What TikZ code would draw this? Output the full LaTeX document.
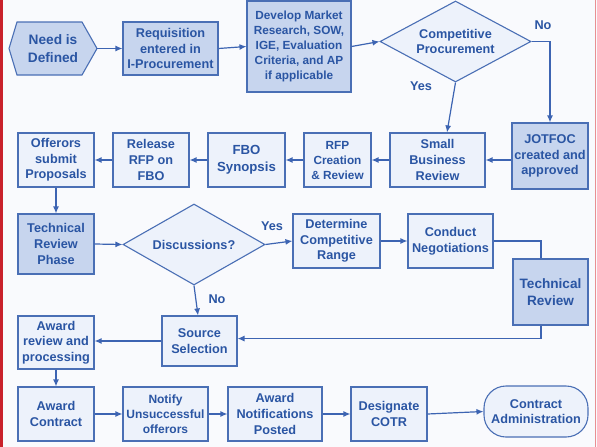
\documentclass[tikz,border=0pt]{standalone}
\usepackage{fontspec}
\setmainfont{Liberation Sans}
\usetikzlibrary{shapes.geometric,arrows.meta}
\definecolor{bordc}{HTML}{4A6FB5}
\definecolor{linec}{HTML}{3D64B2}
\definecolor{txtc}{HTML}{2A55A3}
\definecolor{lightc}{HTML}{EDF2FB}
\definecolor{shadec}{HTML}{C7D5EE}
\definecolor{bgc}{HTML}{F9FAFD}
\definecolor{redbar}{HTML}{C9212B}
\definecolor{pinkl}{HTML}{E98F92}
\tikzset{
  base/.style={draw=bordc, line width=1.1pt, inner sep=0pt, align=center, text=txtc,
    font=\fontsize{12.7}{15.7}\selectfont\bfseries},
  box/.style={base, rectangle, fill=lightc},
  sbox/.style={base, rectangle, fill=shadec},
  dmd/.style={base, diamond, fill=lightc, aspect=1.8},
  term/.style={base, rectangle, rounded corners=22pt, fill=lightc},
  conn/.style={draw=linec, line width=1.2pt, -{Latex[length=7pt,width=6pt]}},
  plain/.style={draw=linec, line width=1.2pt},
  lbl/.style={text=txtc, font=\fontsize{12.7}{15}\selectfont\bfseries, inner sep=0pt}
}
\begin{document}
\begin{tikzpicture}[x=1pt,y=-1pt]
\useasboundingbox (0,0) rectangle (597,447);
\fill[bgc] (0,0) rectangle (597,447);
\fill[redbar] (0,0) rectangle (3,447);
\draw[pinkl, line width=0.8pt] (595,0) -- (595,447);

% row 1
\fill[shadec] (9,48.5) -- (17,22) -- (82,22) -- (97,48.5) -- (82,75) -- (17,75) -- cycle;
\draw[bordc, line width=1.1pt] (9,48.5) -- (17,22) -- (82,22) -- (97,48.5) -- (82,75) -- (17,75) -- cycle;
\node[lbl, font=\fontsize{13.7}{17.5}\selectfont\bfseries, align=center, minimum width=88pt, minimum height=53pt] (need) at (53,48.5) {Need is\\Defined};
\node[sbox, minimum width=95pt, minimum height=53pt] (req) at (170.5,48.5) {Requisition\\entered in\\I-Procurement};
\node[sbox, minimum width=104pt, minimum height=91pt, font=\fontsize{11.8}{15}\selectfont\bfseries] (dev) at (299,46.5) {Develop Market\\Research, SOW,\\IGE, Evaluation\\Criteria, and AP\\if applicable};
\node[dmd, minimum width=151pt, minimum height=81pt] (comp) at (455.5,41.5) {Competitive\\Procurement};

% row 2
\node[box, minimum width=76pt, minimum height=54pt] (off) at (56,160) {Offerors\\submit\\Proposals};
\node[box, minimum width=76pt, minimum height=54pt] (rel) at (151,160) {Release\\RFP on\\FBO};
\node[box, minimum width=77pt, minimum height=54pt, font=\fontsize{13.2}{16.5}\selectfont\bfseries] (fbo) at (246.5,160) {FBO\\Synopsis};
\node[box, minimum width=67pt, minimum height=54pt, font=\fontsize{11.8}{15}\selectfont\bfseries] (rfp) at (337.5,160) {RFP\\Creation\\\& Review};
\node[box, minimum width=95pt, minimum height=54pt] (sbr) at (437.5,160) {Small\\Business\\Review};
\node[sbox, minimum width=76pt, minimum height=66pt] (jot) at (550,156) {JOTFOC\\created and\\approved};

% row 3
\node[sbox, minimum width=76pt, minimum height=60pt] (trp) at (56,244) {Technical\\Review\\Phase};
\node[dmd, minimum width=142pt, minimum height=81pt] (disc) at (194,244.5) {Discussions?};
\node[box, minimum width=87pt, minimum height=54pt] (dcr) at (336.5,241) {Determine\\Competitive\\Range};
\node[box, minimum width=85pt, minimum height=54pt] (cn) at (450.5,241) {Conduct\\Negotiations};
\node[sbox, minimum width=75pt, minimum height=66pt, font=\fontsize{13.6}{16.7}\selectfont\bfseries] (tr) at (550.5,292) {Technical\\Review};
\node[box, minimum width=75pt, minimum height=50pt] (ss) at (199.5,341) {Source\\Selection};
\node[box, minimum width=76pt, minimum height=53pt] (arp) at (56,342.5) {Award\\review and\\processing};

% row 4
\node[box, minimum width=76pt, minimum height=54pt] (ac) at (56,414) {Award\\Contract};
\node[box, minimum width=85pt, minimum height=54pt, font=\fontsize{12}{15}\selectfont\bfseries] (nu) at (165.5,414) {Notify\\Unsuccessful\\offerors};
\node[box, minimum width=94pt, minimum height=54pt] (anp) at (275,414) {Award\\Notifications\\Posted};
\node[box, minimum width=76pt, minimum height=54pt] (dc) at (389,414) {Designate\\COTR};
\node[term, minimum width=104pt, minimum height=51pt] (ca) at (536,411.5) {Contract\\Administration};

% connectors
\draw[conn] (need.east) -- (req.west);
\draw[conn] (req.east) -- (dev.west);
\draw[conn] (dev.east) -- (comp.west);
\draw[conn] (comp.east) -| (jot.north);
\draw[conn] (comp.south) -- ([xshift=9.5pt]sbr.north);
\draw[conn] (sbr.east -| jot.west) -- (sbr.east);
\draw[conn] (sbr.west) -- (rfp.east);
\draw[conn] (rfp.west) -- (fbo.east);
\draw[conn] (fbo.west) -- (rel.east);
\draw[conn] (rel.west) -- (off.east);
\draw[conn] (off.south) -- (trp.north);
\draw[conn] (trp.east) -- (disc.west);
\draw[conn] (disc.east) -- (dcr.west);
\draw[conn] (dcr.east) -- (cn.west);
\draw[plain] (cn.east) -| ([xshift=-9.5pt]tr.north);
\coordinate (trc) at ([xshift=-9.5pt,yshift=-13pt]tr.south);
\draw[conn] ([xshift=-9.5pt]tr.south) -- (trc) -- (trc -| ss.east);
\draw[conn] (disc.south) -- ([xshift=-1.5pt]ss.north);
\draw[conn] (ss.west) -- (ss.west -| arp.east);
\draw[conn] (arp.south) -- (ac.north);
\draw[conn] (ac.east) -- (nu.west);
\draw[conn] (nu.east) -- (anp.west);
\draw[conn] (anp.east) -- (dc.west);
\draw[conn] (dc.east) -- (ca.west);

% labels
\node[lbl] (lno1) at (543,25) {No};
\node[lbl] (lyes1) at (421,86) {Yes};
\node[lbl] (lyes2) at (272,226) {Yes};
\node[lbl] (lno2) at (217,299) {No};
\end{tikzpicture}
\end{document}
